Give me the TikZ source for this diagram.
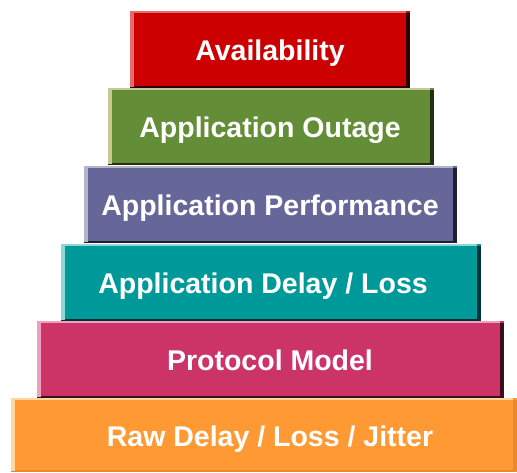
\documentclass[tikz,border=0pt]{standalone}
\usepackage{fontspec}
\setmainfont{Liberation Sans}
\definecolor{cRed}{HTML}{CC0000}
\definecolor{cRedL}{HTML}{E86A6A}
\definecolor{cRedD}{HTML}{2A0000}
\definecolor{cGreen}{HTML}{638D36}
\definecolor{cGreenL}{HTML}{C8C896}
\definecolor{cGreenD}{HTML}{22300F}
\definecolor{cPurple}{HTML}{666699}
\definecolor{cPurpleL}{HTML}{B4B4C8}
\definecolor{cPurpleD}{HTML}{1E1E33}
\definecolor{cTeal}{HTML}{009999}
\definecolor{cTealL}{HTML}{8CD8D8}
\definecolor{cTealD}{HTML}{003333}
\definecolor{cCrimson}{HTML}{CC3366}
\definecolor{cCrimsonL}{HTML}{EEA0BE}
\definecolor{cCrimsonD}{HTML}{3A0F1E}
\definecolor{cOrange}{HTML}{FF9933}
\definecolor{cOrangeL}{HTML}{FFD8A0}
\definecolor{cOrangeD}{HTML}{E88A2A}
\def\textx{270}
\newcommand\pyrblock[9]{%
  \node[blk, fill=#6, minimum width={#4-#2}, minimum height={#5-#3}, anchor=north west] (#1) at (#2,#3) {};
  \fill[#8] ([xshift=-4pt,yshift=-2pt]#1.north east) rectangle (#1.south east);
  \fill[#8] (#1.south west) rectangle ([yshift=2.5pt]#1.south east);
  \fill[#7] ([yshift=-1pt]#1.north west) rectangle ([xshift=4pt,yshift=1pt]#1.south west);
  \fill[#7] (#1.north west) rectangle ([xshift=-4pt,yshift=-2pt]#1.north east);
  \node[lbl] (#1t) at (\textx,{(#3+#5)/2+11}) {#9};
}
\begin{document}
\begin{tikzpicture}[x=1pt,y=-1pt,
  blk/.style={rectangle, draw=none, inner sep=0pt, outer sep=0pt},
  lbl/.style={anchor=base, text=white, inner sep=0pt, font=\bfseries\fontsize{28.5}{30}\selectfont}]
\useasboundingbox (0,0) rectangle (517,472);
\pyrblock{b6}{11}{398}{517}{472}{cOrange}{cOrangeL}{cOrangeD}{Raw Delay / Loss / Jitter}
\pyrblock{b5}{37}{321}{504}{398}{cCrimson}{cCrimsonL}{cCrimsonD}{Protocol Model}
\def\textx{263}
\pyrblock{b4}{61}{244}{481}{321}{cTeal}{cTealL}{cTealD}{Application Delay / Loss}
\def\textx{270}
\pyrblock{b3}{84}{166}{457}{243}{cPurple}{cPurpleL}{cPurpleD}{Application Performance}
\pyrblock{b2}{108}{88}{434}{165}{cGreen}{cGreenL}{cGreenD}{Application Outage}
\pyrblock{b1}{130}{11}{410}{88}{cRed}{cRedL}{cRedD}{Availability}
\end{tikzpicture}
\end{document}
